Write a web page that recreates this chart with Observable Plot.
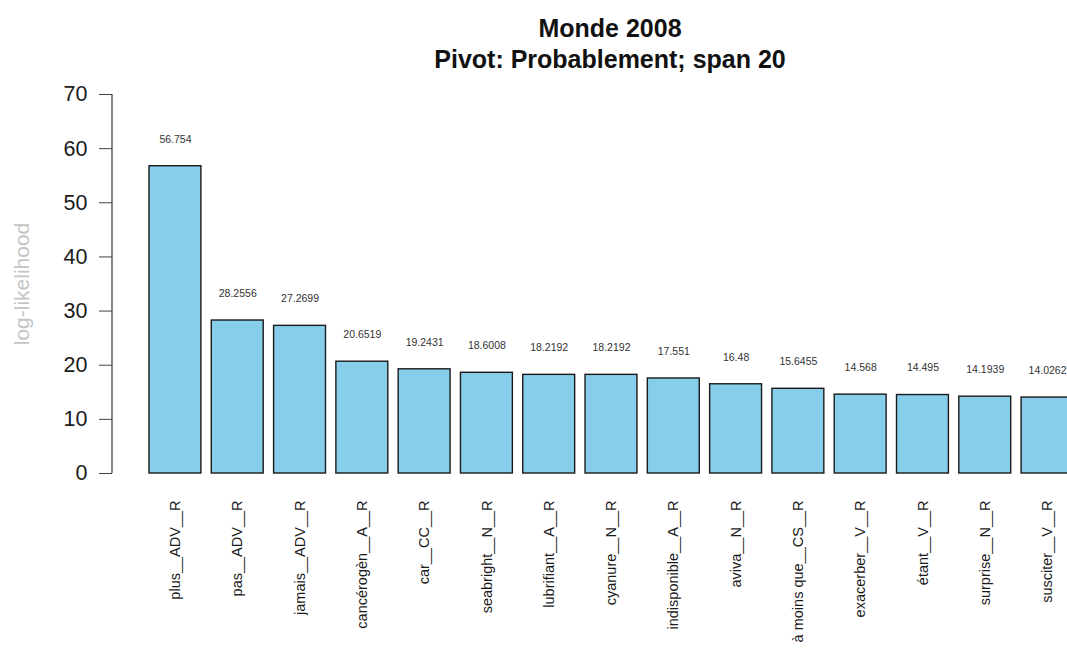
<!DOCTYPE html>
<html>
<head>
<meta charset="utf-8">
<script src="https://cdn.jsdelivr.net/npm/d3@7"></script>
<script src="https://cdn.jsdelivr.net/npm/@observablehq/plot@0.6"></script>
<style>
  html, body { margin: 0; padding: 0; background: white; overflow: hidden; width: 1067px; height: 648px; }
  body { font-family: "Liberation Sans", Arial, Helvetica, sans-serif; position: relative; }
  #title { position: absolute; left: 0; top: 13px; width: 1220px; text-align: center; font-weight: bold; font-size: 25px; line-height: 31px; color: #111; }
  #chart { position: absolute; left: 0; top: 80px; }
  #chart svg { max-width: none; }
</style>
</head>
<body>
<div id="title">Monde 2008<br>Pivot: Probablement; span 20</div>
<div id="chart"></div>
<script>
const categories = ["plus__ADV__R","pas__ADV__R","jamais__ADV__R","cancérogèn__A__R","car__CC__R","seabright__N__R","lubrifiant__A__R","cyanure__N__R","indisponible__A__R","aviva__N__R","à moins que__CS__R","exacerber__V__R","étant__V__R","surprise__N__R","susciter__V__R"];
const values = [56.754, 28.2556, 27.2699, 20.6519, 19.2431, 18.6008, 18.2192, 18.2192, 17.551, 16.48, 15.6455, 14.568, 14.495, 14.1939, 14.0262];
const valueLabels = ["56.754","28.2556","27.2699","20.6519","19.2431","18.6008","18.2192","18.2192","17.551","16.48","15.6455","14.568","14.495","14.1939","14.0262"];
const yTicks = [0, 10, 20, 30, 40, 50, 60, 70];
const yLabel = "log-likelihood";

const data = categories.map((c, i) => ({cat: c, value: values[i], label: valueLabels[i]}));

const axisLine = (index, scales, values, dims) => {
  const g = d3.create("svg:g");
  g.append("line")
    .attr("x1", dims.marginLeft).attr("x2", dims.marginLeft)
    .attr("y1", scales.y(yTicks[0])).attr("y2", scales.y(yTicks[yTicks.length - 1]))
    .attr("stroke", "#444").attr("stroke-width", 1.3);
  return g.node();
};

const plot = Plot.plot({
  width: 1110,
  height: 568,
  marginLeft: 112,
  marginRight: 0,
  marginTop: 14,
  marginBottom: 175,
  style: {fontFamily: "'Liberation Sans', Arial, Helvetica, sans-serif", background: "white", overflow: "visible"},
  x: {type: "band", domain: categories, paddingInner: 0.2 / 1.2, paddingOuter: 0.594, align: 0.5, round: false, axis: null},
  y: {domain: [0, 70], axis: null},
  marks: [
    Plot.barY(data, {x: "cat", y: "value", fill: "#87CEEB", stroke: "#1a1a1a", strokeWidth: 1.4}),
    Plot.text(data, {x: "cat", y: d => d.value + 5, text: "label", fontSize: 10.5, fill: "#333"}),
    Plot.axisX({tickSize: 0, tickPadding: 27, tickRotate: -90, textAnchor: "end", fontSize: 14.5, fill: "#1a1a1a", label: null}),
    Plot.axisY({ticks: yTicks, tickSize: 13, tickPadding: 12, fontSize: 21.5, stroke: "#444", fill: "#1a1a1a", label: null}),
    axisLine,
    Plot.text([yLabel], {frameAnchor: "left", textAnchor: "middle", rotate: -90, dx: -90, fill: "#c4c4c4", fontSize: 21})
  ]
});
document.getElementById("chart").appendChild(plot);
</script>
</body>
</html>
